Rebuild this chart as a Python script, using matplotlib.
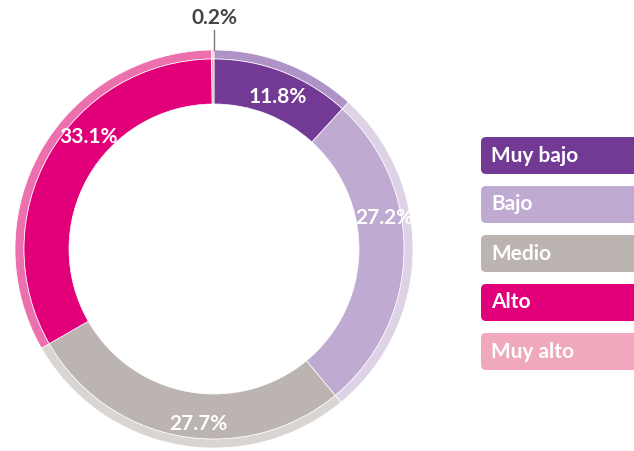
import matplotlib
matplotlib.use("Agg")
import matplotlib.pyplot as plt
from matplotlib.patches import FancyBboxPatch

# Data
categories = ["Muy bajo", "Bajo", "Medio", "Alto", "Muy alto"]
shares = [11.8, 27.2, 27.7, 33.1, 0.2]
labels = ["11.8%", "27.2%", "27.7%", "33.1%", "0.2%"]
colors = ["#733a95", "#bfaad1", "#bcb4b1", "#e2007a", "#f0a8bd"]
rim_colors = ["#b093c6", "#ddd2e6", "#d9d5d3", "#ec6fae", "#f6d0dc"]

W, H = 634, 451
fig = plt.figure(figsize=(W / 100, H / 100), dpi=100)
ax = fig.add_axes([0, 0, 1, 1])
ax.set_xlim(0, W)
ax.set_ylim(0, H)
ax.set_aspect("equal")
ax.axis("off")

cx, cy = 214, H - 249
r_in, r_main, r_out = 145, 190, 199

# lighter outer rim
ax.pie(shares, colors=rim_colors, radius=r_out, center=(cx, cy),
       startangle=90, counterclock=False,
       wedgeprops=dict(width=r_out - r_main, edgecolor="white", linewidth=0.5))
# main ring
ax.pie(shares, colors=colors, radius=r_main, center=(cx, cy),
       startangle=90, counterclock=False,
       wedgeprops=dict(width=r_main - r_in, edgecolor="white", linewidth=0.5))
ax.set_xlim(0, W)
ax.set_ylim(0, H)

font = "Lato"
fs = 15
label_pos = [(278, 97), (384, 218), (198, 424), (88, 137)]
for (x, y), txt in zip(label_pos, labels[:4]):
    ax.text(x, H - y, txt, color="white", fontsize=fs, fontweight="bold",
            family=font, ha="center", va="center")

# small slice label with leader line
ax.plot([cx, cx], [H - 30, H - 50], color="#777777", lw=1)
ax.text(cx, H - 18, labels[4], color="#444444", fontsize=fs, fontweight="bold",
        family=font, ha="center", va="center")

# legend boxes
box_top = 137
for i, (name, col) in enumerate(zip(categories, colors)):
    top = box_top + i * 49
    box = FancyBboxPatch((481, H - top - 37), 200, 37,
                         boxstyle="round,pad=0,rounding_size=5",
                         facecolor=col, edgecolor="none", clip_on=True)
    ax.add_patch(box)
    ax.text(491, H - top - 18.5, name, color="white", fontsize=fs,
            fontweight="bold", family=font, ha="left", va="center")

fig.savefig("out.png", dpi=100)
